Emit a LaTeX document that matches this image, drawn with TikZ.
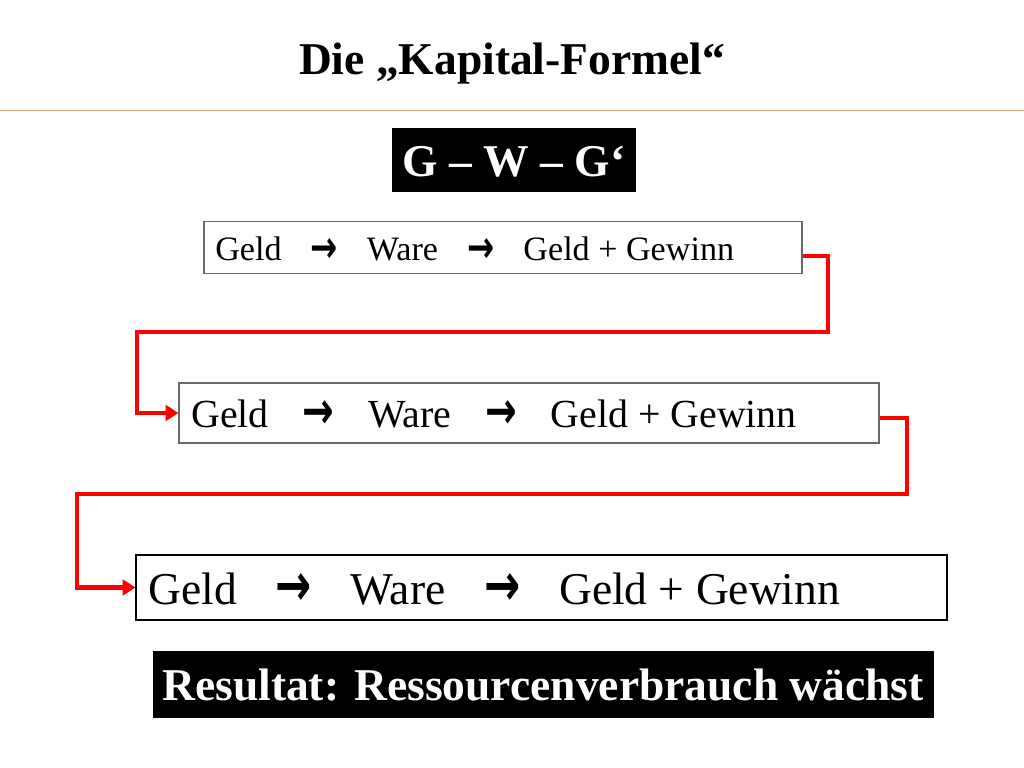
\documentclass[tikz,border=0pt]{standalone}
\usepackage{fontspec}
\setmainfont{Liberation Serif}
\newfontfamily\arrowfont{DejaVu Sans}
\usetikzlibrary{arrows.meta}
\definecolor{rulecol}{HTML}{D9A878}
\definecolor{boxgray}{HTML}{6A6A6A}
\newcommand{\arr}{\makebox[0.8em][c]{\arrowfont\bfseries\raisebox{-0.04em}{\scalebox{0.95}[1.3]{→}}}}
\newcommand{\flowtext}{Geld\hspace{0.85em}\arr\hspace{0.85em}Ware\hspace{0.85em}\arr\hspace{0.85em}Geld + Gewinn}
\begin{document}
\begin{tikzpicture}[x=0.703125pt,y=-0.703125pt,
  frame/.style={draw=boxgray,line width=0.8pt,fill=white,inner sep=0pt},
  blackbox/.style={fill=black,inner sep=0pt},
  txt/.style={anchor=base west,inner sep=0pt},
  conn/.style={draw=red,line width=3.2pt,-{Triangle[length=9pt,width=11pt]}}]
\fill[white] (0,0) rectangle (1024,768);
\useasboundingbox (0,0) rectangle (1024,768);
% title
\node[anchor=base,inner sep=0pt] (title) at (512,75) {\fontsize{32}{38}\selectfont\bfseries Die „Kapital-Formel“};
\draw[rulecol,line width=1.2pt] (0,110.5) -- (1024,110.5);
% G-W-G'
\node[blackbox,minimum width=244*0.703125pt,minimum height=64*0.703125pt] (gwg) at (514,160) {};
\node[anchor=base,inner sep=0pt,text=white] (gwgt) at (514,177) {\fontsize{32}{38}\selectfont\bfseries G – W – G‘};
% boxes
\node[frame,minimum width=598*0.703125pt,minimum height=52*0.703125pt] (b1) at (503,247.5) {};
\node[txt] (t1) at (215,261) {\fontsize{24}{28}\selectfont\flowtext};
\node[frame,minimum width=700*0.703125pt,minimum height=60*0.703125pt] (b2) at (529,413) {};
\node[txt] (t2) at (191,427) {\fontsize{28}{33}\selectfont\flowtext};
\node[frame,draw=black,minimum width=811*0.703125pt,minimum height=65*0.703125pt] (b3) at (541.5,587.5) {};
\node[txt] (t3) at (148,604) {\fontsize{32}{38}\selectfont\flowtext};
% result
\node[blackbox,minimum width=781*0.703125pt,minimum height=67*0.703125pt] (res) at (543.5,684.5) {};
\node[anchor=base,inner sep=0pt,text=white] (rest) at (543,700) {\fontsize{32}{38}\selectfont\bfseries Resultat: Ressourcenverbrauch wächst};
% connectors
\coordinate (c1a) at (828,332);
\coordinate (c1b) at (137,413);
\coordinate (c2a) at (907,494);
\coordinate (c2b) at (77,587.5);
\draw[conn] ([yshift=-6pt]b1.east) -| (c1a) -| (c1b) -- (b2.west);
\draw[conn] ([yshift=-3.5pt]b2.east) -| (c2a) -| (c2b) -- (b3.west);
\end{tikzpicture}
\end{document}
